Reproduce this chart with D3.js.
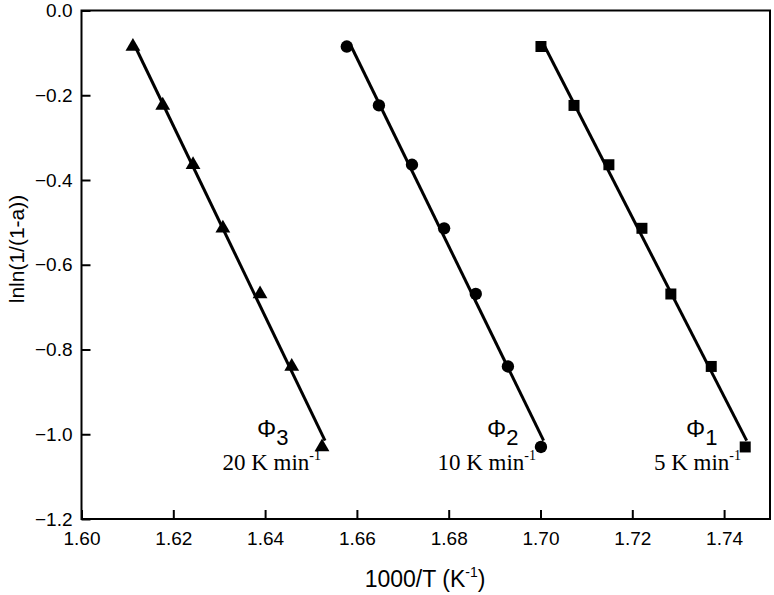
<!DOCTYPE html>
<html>
<head>
<meta charset="utf-8">
<script src="https://cdn.jsdelivr.net/npm/d3@7"></script>
<style>
  body { margin: 0; background: #fff; }
  svg { display: block; }
</style>
</head>
<body>
<script>
    // lnln(1/(1-a)) values, same conversion levels for every heating rate
    var yValues = [-0.085, -0.224, -0.364, -0.514, -0.669, -0.840, -1.030];

    // 1000/T for each heating rate
    var x20 = [1.6112, 1.6177, 1.6243, 1.6308, 1.6389, 1.6458, 1.6524];
    var x10 = [1.6578, 1.6648, 1.6720, 1.6790, 1.6859, 1.6929, 1.7001];
    var x5  = [1.7001, 1.7073, 1.7149, 1.7221, 1.7284, 1.7372, 1.7446];

    var seriesNames = ["3", "2", "1"];
    var rateLabels = ["20 K min", "10 K min", "5 K min"];
    var xTicks = [1.60, 1.62, 1.64, 1.66, 1.68, 1.70, 1.72, 1.74];
    var yTicks = [0.0, -0.2, -0.4, -0.6, -0.8, -1.0, -1.2];

    var W = 774, H = 595;
    var plotL = 81.5, plotR = 770, plotT = 10.5, plotB = 519;
    var fontFamily = "Arial, 'Liberation Sans', sans-serif";
    var serif = "'Times New Roman', 'Liberation Serif', serif";

    var x = d3.scaleLinear().domain([1.60, 1.75]).range([plotL, plotR]);
    var y = d3.scaleLinear().domain([-1.2, 0.0]).range([plotB, plotT]);

    var svg = d3.select("body").append("svg")
        .attr("width", W)
        .attr("height", H);

    // frame
    svg.append("rect")
        .attr("x", plotL).attr("y", plotT)
        .attr("width", plotR - plotL).attr("height", plotB - plotT)
        .attr("fill", "none").attr("stroke", "#000").attr("stroke-width", 2);

    // axes with inward ticks
    var xAxis = svg.append("g")
        .attr("transform", "translate(0," + plotB + ")")
        .call(d3.axisBottom(x).tickValues(xTicks).tickSize(-9)
            .tickFormat(d3.format(".2f")));
    var yAxis = svg.append("g")
        .attr("transform", "translate(" + plotL + ",0)")
        .call(d3.axisLeft(y).tickValues(yTicks).tickSize(-9)
            .tickFormat(d3.format(".1f")));

    [xAxis, yAxis].forEach(function (g) {
        g.select(".domain").remove();
        g.selectAll(".tick line").attr("stroke", "#000").attr("stroke-width", 2);
        g.selectAll(".tick text")
            .attr("font-family", fontFamily)
            .attr("font-size", "19px")
            .attr("fill", "#000");
    });
    yAxis.selectAll(".tick text").attr("x", -9);
    xAxis.selectAll(".tick text").attr("y", 13);

    // axis titles
    var xt = svg.append("text")
        .attr("x", 425).attr("y", 587)
        .attr("text-anchor", "middle")
        .attr("font-family", fontFamily)
        .attr("font-size", "23px");
    xt.append("tspan").text("1000/T (K");
    xt.append("tspan").attr("font-size", "14px").attr("dy", -10).text("-1");
    xt.append("tspan").attr("dy", 10).text(")");

    svg.append("text")
        .attr("transform", "translate(24,249) rotate(-90)")
        .attr("text-anchor", "middle")
        .attr("font-family", fontFamily)
        .attr("font-size", "21px")
        .text("lnln(1/(1-a))");

    // series
    var allX = [x20, x10, x5];
    var symbols = [d3.symbolTriangle, d3.symbolCircle, d3.symbolSquare];
    var sizes = [95, 120, 121];

    allX.forEach(function (xs, i) {
        var pts = xs.map(function (d, j) { return [d, yValues[j]]; });

        // least squares fit line
        var n = pts.length;
        var mx = d3.mean(pts, function (p) { return p[0]; });
        var my = d3.mean(pts, function (p) { return p[1]; });
        var sxy = d3.sum(pts, function (p) { return (p[0] - mx) * (p[1] - my); });
        var sxx = d3.sum(pts, function (p) { return (p[0] - mx) * (p[0] - mx); });
        var slope = sxy / sxx;
        var icpt = my - slope * mx;
        var y0 = yValues[0], y1 = yValues[n - 1] + 0.015;
        svg.append("line")
            .attr("x1", x((y0 - icpt) / slope)).attr("y1", y(y0))
            .attr("x2", x((y1 - icpt) / slope)).attr("y2", y(y1))
            .attr("stroke", "#000").attr("stroke-width", 3);

        svg.selectAll(".pt" + i)
            .data(pts)
            .enter()
            .append("path")
            .attr("class", "pt" + i)
            .attr("d", d3.symbol().type(symbols[i]).size(sizes[i]))
            .attr("transform", function (p) {
                return "translate(" + x(p[0]) + "," + y(p[1]) + ")";
            })
            .attr("fill", "#000");
    });

    // rate labels
    var phiX = [257, 487, 686];
    var rateX = [321, 536, 741];
    seriesNames.forEach(function (s, i) {
        var t = svg.append("text")
            .attr("x", phiX[i]).attr("y", 437)
            .attr("font-family", fontFamily)
            .attr("font-size", "22px");
        t.append("tspan").attr("font-size", "24px").text("\u03A6");
        t.append("tspan").attr("dy", 8).text(s);

        var r = svg.append("text")
            .attr("x", rateX[i]).attr("y", 470)
            .attr("text-anchor", "end")
            .attr("font-family", serif)
            .attr("font-size", "23px");
        r.append("tspan").text(rateLabels[i]);
        r.append("tspan").attr("font-size", "14px").attr("dy", -10).text("-1");
    });
</script>
</body>
</html>
